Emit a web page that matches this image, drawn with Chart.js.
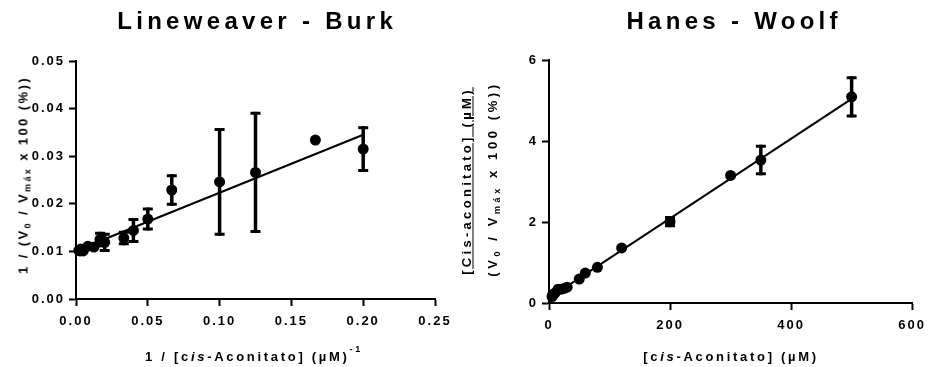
<!DOCTYPE html>
<html>
<head>
<meta charset="utf-8">
<script src="https://cdn.jsdelivr.net/npm/chart.js@4.4.1/dist/chart.umd.min.js"></script>
<style>
html,body{margin:0;padding:0;background:#fff;}
#wrap{position:relative;width:931px;height:367px;overflow:hidden;font-family:"Liberation Sans",Arial,sans-serif;font-weight:bold;color:#000;}
canvas{position:absolute;left:0;top:0;}
.t{position:absolute;white-space:nowrap;line-height:1;}
.title{font-size:24px;letter-spacing:4.3px;padding-left:4.3px;}
.ax{font-size:13px;}
.sub{font-size:9px;position:relative;top:3px;}
.sup{font-size:9px;position:relative;top:-9px;}
.h{transform:translate(-50%,-50%);}
.v{transform:translate(-50%,-50%) rotate(-90deg);}
</style>
</head>
<body>
<div id="wrap">
  <canvas id="lb" width="931" height="367"></canvas>
  <canvas id="hw" width="931" height="367"></canvas>
  <div class="t title h" style="left:255px;top:21px;">Lineweaver - Burk</div>
  <div class="t title h" style="left:732px;top:21px;">Hanes - Woolf</div>
  <div class="t ax h" style="left:254px;top:355.5px;letter-spacing:2.7px;">1 / [c<i>is</i>-Aconitato] (µM)<span class="sup">-1</span></div>
  <div class="t ax h" style="left:731px;top:356px;letter-spacing:2.7px;">[c<i>is</i>-Aconitato] (µM)</div>
  <div class="t ax v" style="left:22.5px;top:175px;letter-spacing:2.4px;">1 / (V<span class="sub">0</span> / V<span class="sub">máx</span> x 100 (%))</div>
  <div class="t ax v" style="left:466px;top:181px;letter-spacing:3.3px;text-decoration:underline;text-underline-offset:2px;">[Cis-aconitato] (µM)</div>
  <div class="t ax v" style="left:491.5px;top:179px;letter-spacing:3.6px;">(V<span class="sub">0</span> / V<span class="sub">máx</span> x 100 (%))</div>
</div>
<script>
// ---------- Lineweaver-Burk data ----------
const lbX   = [0.2, 0.1667, 0.125, 0.1, 0.0667, 0.05, 0.04, 0.0333, 0.02, 0.0167, 0.0125, 0.0083, 0.005, 0.0033, 0.0029, 0.002];
const lbY   = [0.0315, 0.0334, 0.0266, 0.0246, 0.0229, 0.0168, 0.0144, 0.0128, 0.0119, 0.0125, 0.0109, 0.0111, 0.0101, 0.0105, 0.0101, 0.0102];
const lbErr = [0.0045, 0, 0.0124, 0.011, 0.003, 0.0021, 0.0023, 0.0012, 0.0017, 0.0013, 0, 0, 0, 0, 0, 0];
const lbFitX = [0.002, 0.2];
const lbFitY = [0.0104, 0.0345];
const lbXTicks = [0, 0.05, 0.10, 0.15, 0.20, 0.25];
const lbXTickLabels = ['0.00', '0.05', '0.10', '0.15', '0.20', '0.25'];
const lbYTicks = [0, 0.01, 0.02, 0.03, 0.04, 0.05];
const lbYTickLabels = ['0.00', '0.01', '0.02', '0.03', '0.04', '0.05'];

// ---------- Hanes-Woolf data ----------
const hwX   = [5, 6, 8, 10, 15, 20, 25, 30, 50, 60, 80, 120, 200, 300, 350, 500];
const hwY   = [0.16, 0.20, 0.22, 0.25, 0.34, 0.34, 0.36, 0.39, 0.59, 0.74, 0.88, 1.36, 2.01, 3.15, 3.53, 5.09];
const hwErr = [0, 0, 0, 0, 0, 0, 0, 0, 0, 0, 0, 0, 0.1, 0, 0.34, 0.47];
const hwFitX = [5, 500];
const hwFitY = [0.17, 5.04];
const hwXTicks = [0, 200, 400, 600];
const hwXTickLabels = ['0', '200', '400', '600'];
const hwYTicks = [0, 2, 4, 6];
const hwYTickLabels = ['0', '2', '4', '6'];

const FONT = '"Liberation Sans", Arial, sans-serif';

const spacingPlugin = {
  id: 'spacing',
  beforeDraw(chart) { chart.ctx.letterSpacing = '2px'; }
};

const errorBars = {
  id: 'errorBars',
  afterDatasetsDraw(chart, args, opts) {
    const ctx = chart.ctx, xs = chart.scales.x, ys = chart.scales.y;
    const pts = chart.data.datasets[0].data;
    ctx.save();
    ctx.strokeStyle = '#000';
    pts.forEach((p, i) => {
      const e = opts.errors[i];
      if (!e) return;
      const px = xs.getPixelForValue(p.x);
      const top = ys.getPixelForValue(p.y + e);
      const bot = ys.getPixelForValue(p.y - e);
      ctx.lineWidth = 3.5;
      ctx.beginPath(); ctx.moveTo(px, top - 1.5); ctx.lineTo(px, bot + 1.5); ctx.stroke();
      ctx.lineWidth = 3;
      ctx.beginPath();
      ctx.moveTo(px - 5, top); ctx.lineTo(px + 5, top);
      ctx.moveTo(px - 5, bot); ctx.lineTo(px + 5, bot);
      ctx.stroke();
    });
    ctx.restore();
  }
};

function axis(ticks, labels, min, max, size, isX) {
  return {
    type: 'linear', min: min, max: max,
    afterBuildTicks: s => { s.ticks = ticks.map(v => ({ value: v })); },
    afterFit: s => { if (isX) s.height = size; else s.width = size; },
    ticks: {
      callback: (v, i) => labels[i],
      color: '#000',
      font: { family: FONT, size: 13, weight: 'bold' },
      padding: isX ? 8 : 4,
      maxRotation: 0, minRotation: 0, autoSkip: false
    },
    grid: { display: true, drawOnChartArea: false, drawTicks: true, tickLength: 7, tickWidth: 2, tickColor: '#000' },
    border: { display: true, color: '#000', width: 2 },
    title: { display: false }
  };
}

function makeChart(id, xs, ys, errs, fx, fy, xT, xL, xMin, xMax, yT, yL, yMin, yMax, pad, yW) {
  return new Chart(document.getElementById(id), {
    type: 'scatter',
    data: {
      datasets: [
        {
          data: xs.map((x, i) => ({ x: x, y: ys[i] })),
          pointRadius: 5.5, pointHoverRadius: 5.5,
          pointBackgroundColor: '#000', pointBorderColor: '#000', pointBorderWidth: 0,
          showLine: false, clip: false
        },
        {
          data: fx.map((x, i) => ({ x: x, y: fy[i] })),
          showLine: true, borderColor: '#000', borderWidth: 2, pointRadius: 0, clip: false, fill: false
        }
      ]
    },
    options: {
      responsive: false, animation: false, devicePixelRatio: 1,
      layout: { padding: pad },
      plugins: { legend: { display: false }, tooltip: { enabled: false }, title: { display: false }, errorBars: { errors: errs } },
      scales: {
        x: axis(xT, xL, xMin, xMax, 30, true),
        y: axis(yT, yL, yMin, yMax, yW, false)
      }
    },
    plugins: [spacingPlugin, errorBars]
  });
}

makeChart('lb', lbX, lbY, lbErr, lbFitX, lbFitY,
  lbXTicks, lbXTickLabels, 0, 0.25, lbYTicks, lbYTickLabels, 0, 0.05,
  { left: 26, right: 496, top: 61, bottom: 38 }, 50);

makeChart('hw', hwX, hwY, hwErr, hwFitX, hwFitY,
  hwXTicks, hwXTickLabels, 0, 600, hwYTicks, hwYTickLabels, 0, 6,
  { left: 509, right: 15, top: 60, bottom: 34 }, 40);
</script>
</body>
</html>
